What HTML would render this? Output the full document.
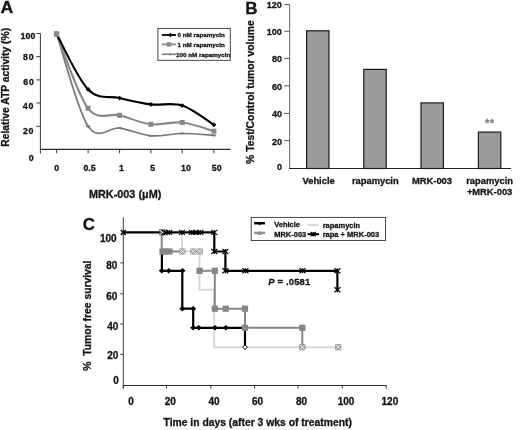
<!DOCTYPE html>
<html><head><meta charset="utf-8"><style>
html,body{margin:0;padding:0;background:#fff;}
body{width:520px;height:430px;overflow:hidden;}
svg{display:block;font-family:"Liberation Sans", sans-serif;filter:grayscale(1);}
</style></head><body>
<svg width="520" height="430" viewBox="0 0 520 430">
<rect width="520" height="430" fill="#fff"/>
<text x="0.6" y="12.9" font-size="16" text-anchor="start" fill="#151515" stroke="#151515" stroke-width="0.3" font-weight="bold" textLength="12.8" lengthAdjust="spacingAndGlyphs">A</text>
<line x1="40.4" y1="33.5" x2="40.4" y2="153.6" stroke="#3a3a3a" stroke-width="1"/>
<line x1="40.4" y1="149.4" x2="230.5" y2="149.4" stroke="#2a2a2a" stroke-width="1.1"/>
<line x1="36.3" y1="33.5" x2="40.4" y2="33.5" stroke="#3a3a3a" stroke-width="1"/>
<text x="35.3" y="38.75" font-size="8.8" text-anchor="end" fill="#151515" stroke="#151515" stroke-width="0.3" font-weight="bold" textLength="14.9">100</text>
<line x1="36.3" y1="56.6" x2="40.4" y2="56.6" stroke="#3a3a3a" stroke-width="1"/>
<text x="33.6" y="60.45" font-size="8.8" text-anchor="end" fill="#151515" stroke="#151515" stroke-width="0.3" font-weight="bold" textLength="10.5">80</text>
<line x1="36.3" y1="79.9" x2="40.4" y2="79.9" stroke="#3a3a3a" stroke-width="1"/>
<text x="33.8" y="84.95" font-size="8.8" text-anchor="end" fill="#151515" stroke="#151515" stroke-width="0.3" font-weight="bold" textLength="10.5">60</text>
<line x1="36.3" y1="103" x2="40.4" y2="103" stroke="#3a3a3a" stroke-width="1"/>
<text x="33.3" y="109.15" font-size="8.8" text-anchor="end" fill="#151515" stroke="#151515" stroke-width="0.3" font-weight="bold" textLength="10.5">40</text>
<line x1="36.3" y1="126.3" x2="40.4" y2="126.3" stroke="#3a3a3a" stroke-width="1"/>
<text x="33.4" y="133.75" font-size="8.8" text-anchor="end" fill="#151515" stroke="#151515" stroke-width="0.3" font-weight="bold" textLength="10.5">20</text>
<text x="33.6" y="161.45" font-size="8.8" text-anchor="end" fill="#151515" stroke="#151515" stroke-width="0.3" font-weight="bold" >0</text>
<line x1="56.6" y1="149.4" x2="56.6" y2="153.3" stroke="#3a3a3a" stroke-width="1"/>
<line x1="88.1" y1="149.4" x2="88.1" y2="153.3" stroke="#3a3a3a" stroke-width="1"/>
<line x1="119.6" y1="149.4" x2="119.6" y2="153.3" stroke="#3a3a3a" stroke-width="1"/>
<line x1="150.9" y1="149.4" x2="150.9" y2="153.3" stroke="#3a3a3a" stroke-width="1"/>
<line x1="182.2" y1="149.4" x2="182.2" y2="153.3" stroke="#3a3a3a" stroke-width="1"/>
<line x1="213.9" y1="149.4" x2="213.9" y2="153.3" stroke="#3a3a3a" stroke-width="1"/>
<text x="56.8" y="171.35" font-size="8.8" text-anchor="middle" fill="#151515" stroke="#151515" stroke-width="0.3" font-weight="bold" >0</text>
<text x="89.5" y="171.35" font-size="8.8" text-anchor="middle" fill="#151515" stroke="#151515" stroke-width="0.3" font-weight="bold" >0.5</text>
<text x="121.5" y="171.35" font-size="8.8" text-anchor="middle" fill="#151515" stroke="#151515" stroke-width="0.3" font-weight="bold" >1</text>
<text x="152.6" y="171.35" font-size="8.8" text-anchor="middle" fill="#151515" stroke="#151515" stroke-width="0.3" font-weight="bold" >5</text>
<text x="186" y="171.35" font-size="8.8" text-anchor="middle" fill="#151515" stroke="#151515" stroke-width="0.3" font-weight="bold" >10</text>
<text x="216.7" y="171.35" font-size="8.8" text-anchor="middle" fill="#151515" stroke="#151515" stroke-width="0.3" font-weight="bold" >50</text>
<text transform="translate(8.9,87.3) rotate(-90)" font-size="10.3" text-anchor="middle" font-weight="bold" fill="#151515" stroke="#151515" stroke-width="0.3" >Relative ATP activity (%)</text>
<text x="89" y="198.3" font-size="10.85" text-anchor="start" fill="#151515" stroke="#151515" stroke-width="0.3" font-weight="bold" >MRK-003 (&#956;M)</text>
<path d="M56.6,34 C61.85,49.38 77.6,110.62 88.1,126.3 C98.6,141.98 109.13,126.52 119.6,128.1 C130.07,129.68 140.47,134.9 150.9,135.8 C161.33,136.7 171.7,133.57 182.2,133.5 C192.7,133.43 208.62,135.08 213.9,135.4" stroke="#777" stroke-width="1.7" fill="none" />
<path d="M56.6,34 C61.85,46.38 77.6,94.75 88.1,108.3 C98.6,121.85 109.13,112.63 119.6,115.3 C130.07,117.97 140.47,123.1 150.9,124.3 C161.33,125.5 171.7,121.35 182.2,122.5 C192.7,123.65 208.62,129.75 213.9,131.2" stroke="#888" stroke-width="2.1" fill="none" />
<path d="M56.6,34 C61.85,43.23 77.6,78.72 88.1,89.4 C98.6,100.08 109.13,95.6 119.6,98.1 C130.07,100.6 140.47,103.15 150.9,104.4 C161.33,105.65 171.7,102.2 182.2,105.6 C192.7,109 208.62,121.6 213.9,124.8" stroke="#000" stroke-width="2.1" fill="none" />
<path d="M56.6,31.6 l2.5,2.4 l-2.5,2.4 l-2.5,-2.4z" fill="#000"/>
<path d="M88.1,87 l2.5,2.4 l-2.5,2.4 l-2.5,-2.4z" fill="#000"/>
<path d="M119.6,95.7 l2.5,2.4 l-2.5,2.4 l-2.5,-2.4z" fill="#000"/>
<path d="M150.9,102 l2.5,2.4 l-2.5,2.4 l-2.5,-2.4z" fill="#000"/>
<path d="M182.2,103.2 l2.5,2.4 l-2.5,2.4 l-2.5,-2.4z" fill="#000"/>
<path d="M213.9,122.4 l2.5,2.4 l-2.5,2.4 l-2.5,-2.4z" fill="#000"/>
<rect x="54.1" y="31.5" width="5" height="5" fill="#888" stroke="none" stroke-width="0"/>
<rect x="85.6" y="105.8" width="5" height="5" fill="#888" stroke="none" stroke-width="0"/>
<rect x="117.1" y="112.8" width="5" height="5" fill="#888" stroke="none" stroke-width="0"/>
<rect x="148.4" y="121.8" width="5" height="5" fill="#888" stroke="none" stroke-width="0"/>
<rect x="179.7" y="120" width="5" height="5" fill="#888" stroke="none" stroke-width="0"/>
<rect x="211.4" y="128.7" width="5" height="5" fill="#888" stroke="none" stroke-width="0"/>
<line x1="85.9" y1="126.3" x2="90.3" y2="126.3" stroke="#777" stroke-width="1.8"/>
<line x1="117.4" y1="128.1" x2="121.8" y2="128.1" stroke="#777" stroke-width="1.8"/>
<line x1="148.7" y1="135.8" x2="153.1" y2="135.8" stroke="#777" stroke-width="1.8"/>
<line x1="180" y1="133.5" x2="184.4" y2="133.5" stroke="#777" stroke-width="1.8"/>
<line x1="211.7" y1="135.4" x2="216.1" y2="135.4" stroke="#777" stroke-width="1.8"/>
<rect x="53.8" y="31.3" width="5.4" height="5.4" fill="#8a8a8a" stroke="none" stroke-width="0"/>
<rect x="157.9" y="28.4" width="72.4" height="31.9" fill="#fff" stroke="#333" stroke-width="0.9"/>
<line x1="161.8" y1="35" x2="176" y2="35" stroke="#000" stroke-width="1.8"/>
<path d="M170.4,32.8 l2.2,2.2 l-2.2,2.2 l-2.2,-2.2z" fill="#000"/>
<line x1="161.8" y1="44.4" x2="176" y2="44.4" stroke="#8a8a8a" stroke-width="1.8"/>
<rect x="166.8" y="42.2" width="4.4" height="4.4" fill="#8a8a8a" stroke="none" stroke-width="0"/>
<line x1="161.8" y1="54.3" x2="176" y2="54.3" stroke="#7a7a7a" stroke-width="1.5"/>
<line x1="170" y1="53" x2="170" y2="55.6" stroke="#7a7a7a" stroke-width="1"/>
<text x="177.6" y="37.44" font-size="6.25" text-anchor="start" fill="#151515" stroke="#151515" stroke-width="0.3" font-weight="bold" >0 nM rapamycin</text>
<text x="177.6" y="46.64" font-size="6.25" text-anchor="start" fill="#151515" stroke="#151515" stroke-width="0.3" font-weight="bold" >1 nM rapamycin</text>
<text x="176.1" y="56.64" font-size="6.25" text-anchor="start" fill="#151515" stroke="#151515" stroke-width="0.3" font-weight="bold" >100 nM rapamycin</text>
<text x="245.3" y="13.6" font-size="15.6" text-anchor="start" fill="#151515" stroke="#151515" stroke-width="0.3" font-weight="bold" textLength="12.3" lengthAdjust="spacingAndGlyphs">B</text>
<line x1="289.6" y1="4.2" x2="289.6" y2="168.5" stroke="#777" stroke-width="1.1"/>
<line x1="289" y1="168.5" x2="511" y2="168.5" stroke="#222" stroke-width="1.1"/>
<line x1="284.3" y1="4.6" x2="289.6" y2="4.6" stroke="#555" stroke-width="1"/>
<text x="281.9" y="8.12" font-size="9" text-anchor="end" fill="#151515" stroke="#151515" stroke-width="0.3" font-weight="bold" >120</text>
<line x1="284.3" y1="31.3" x2="289.6" y2="31.3" stroke="#555" stroke-width="1"/>
<text x="281.9" y="35.32" font-size="9" text-anchor="end" fill="#151515" stroke="#151515" stroke-width="0.3" font-weight="bold" >100</text>
<line x1="284.3" y1="58.4" x2="289.6" y2="58.4" stroke="#555" stroke-width="1"/>
<text x="281.9" y="62.42" font-size="9" text-anchor="end" fill="#151515" stroke="#151515" stroke-width="0.3" font-weight="bold" >80</text>
<line x1="284.3" y1="85.8" x2="289.6" y2="85.8" stroke="#555" stroke-width="1"/>
<text x="281.9" y="89.82" font-size="9" text-anchor="end" fill="#151515" stroke="#151515" stroke-width="0.3" font-weight="bold" >60</text>
<line x1="284.3" y1="113.4" x2="289.6" y2="113.4" stroke="#555" stroke-width="1"/>
<text x="281.9" y="117.42" font-size="9" text-anchor="end" fill="#151515" stroke="#151515" stroke-width="0.3" font-weight="bold" >40</text>
<line x1="284.3" y1="140.6" x2="289.6" y2="140.6" stroke="#555" stroke-width="1"/>
<text x="281.9" y="144.62" font-size="9" text-anchor="end" fill="#151515" stroke="#151515" stroke-width="0.3" font-weight="bold" >20</text>
<text x="281.9" y="170.12" font-size="9" text-anchor="end" fill="#151515" stroke="#151515" stroke-width="0.3" font-weight="bold" >0</text>
<text transform="translate(254.4,92.05) rotate(-90)" font-size="10.36" text-anchor="middle" font-weight="bold" fill="#151515" stroke="#151515" stroke-width="0.3" >% Test/Control tumor volume</text>
<rect x="306.6" y="30.8" width="22.4" height="137.7" fill="#9b9b9b" stroke="#1a1a1a" stroke-width="1.2"/>
<rect x="363.8" y="69.4" width="22.4" height="99.1" fill="#9b9b9b" stroke="#1a1a1a" stroke-width="1.2"/>
<rect x="421" y="102.9" width="22.4" height="65.6" fill="#9b9b9b" stroke="#1a1a1a" stroke-width="1.2"/>
<rect x="478.4" y="132.1" width="22.4" height="36.4" fill="#9b9b9b" stroke="#1a1a1a" stroke-width="1.2"/>
<text x="318.6" y="183.95" font-size="9.35" text-anchor="middle" fill="#151515" stroke="#151515" stroke-width="0.3" font-weight="bold" >Vehicle</text>
<text x="375.3" y="183.95" font-size="9.35" text-anchor="middle" fill="#151515" stroke="#151515" stroke-width="0.3" font-weight="bold" >rapamycin</text>
<text x="432" y="184.15" font-size="9.35" text-anchor="middle" fill="#151515" stroke="#151515" stroke-width="0.3" font-weight="bold" >MRK-003</text>
<text x="489.6" y="184.15" font-size="9.35" text-anchor="middle" fill="#151515" stroke="#151515" stroke-width="0.3" font-weight="bold" >rapamycin</text>
<text x="489.6" y="194.55" font-size="9.35" text-anchor="middle" fill="#151515" stroke="#151515" stroke-width="0.3" font-weight="bold" >+MRK-003</text>
<text x="489.8" y="127.2" font-size="11" text-anchor="middle" fill="#808080" stroke="#808080" stroke-width="0.3" font-weight="bold" letter-spacing="0.6">**</text>
<text x="82.7" y="229.7" font-size="16.2" text-anchor="start" fill="#151515" stroke="#151515" stroke-width="0.3" font-weight="bold" textLength="12.2" lengthAdjust="spacingAndGlyphs">C</text>
<line x1="123.3" y1="217.4" x2="123.3" y2="388.6" stroke="#3a3a3a" stroke-width="1"/>
<line x1="123.3" y1="385.5" x2="386.6" y2="385.5" stroke="#2a2a2a" stroke-width="1.2"/>
<line x1="120.3" y1="262.9" x2="123.3" y2="262.9" stroke="#3a3a3a" stroke-width="1"/>
<line x1="120.3" y1="293.8" x2="123.3" y2="293.8" stroke="#3a3a3a" stroke-width="1"/>
<line x1="120.3" y1="324" x2="123.3" y2="324" stroke="#3a3a3a" stroke-width="1"/>
<line x1="120.3" y1="354.3" x2="123.3" y2="354.3" stroke="#3a3a3a" stroke-width="1"/>
<text x="116.6" y="241.58" font-size="10" text-anchor="end" fill="#151515" stroke="#151515" stroke-width="0.3" font-weight="bold" >100</text>
<text x="117.3" y="269.48" font-size="10" text-anchor="end" fill="#151515" stroke="#151515" stroke-width="0.3" font-weight="bold" >80</text>
<text x="117.3" y="300.38" font-size="10" text-anchor="end" fill="#151515" stroke="#151515" stroke-width="0.3" font-weight="bold" >60</text>
<text x="118.3" y="330.38" font-size="10" text-anchor="end" fill="#151515" stroke="#151515" stroke-width="0.3" font-weight="bold" >40</text>
<text x="118.3" y="359.08" font-size="10" text-anchor="end" fill="#151515" stroke="#151515" stroke-width="0.3" font-weight="bold" >20</text>
<text x="118.8" y="383.98" font-size="10" text-anchor="end" fill="#151515" stroke="#151515" stroke-width="0.3" font-weight="bold" >0</text>
<line x1="123.3" y1="385.5" x2="123.3" y2="388.6" stroke="#3a3a3a" stroke-width="1"/>
<line x1="166.5" y1="385.5" x2="166.5" y2="388.6" stroke="#3a3a3a" stroke-width="1"/>
<line x1="210.8" y1="385.5" x2="210.8" y2="388.6" stroke="#3a3a3a" stroke-width="1"/>
<line x1="254.6" y1="385.5" x2="254.6" y2="388.6" stroke="#3a3a3a" stroke-width="1"/>
<line x1="298" y1="385.5" x2="298" y2="388.6" stroke="#3a3a3a" stroke-width="1"/>
<line x1="342.3" y1="385.5" x2="342.3" y2="388.6" stroke="#3a3a3a" stroke-width="1"/>
<line x1="386.2" y1="385.5" x2="386.2" y2="388.6" stroke="#3a3a3a" stroke-width="1"/>
<text x="131" y="404.98" font-size="10" text-anchor="middle" fill="#151515" stroke="#151515" stroke-width="0.3" font-weight="bold" >0</text>
<text x="170.2" y="404.98" font-size="10" text-anchor="middle" fill="#151515" stroke="#151515" stroke-width="0.3" font-weight="bold" >20</text>
<text x="214" y="404.98" font-size="10" text-anchor="middle" fill="#151515" stroke="#151515" stroke-width="0.3" font-weight="bold" >40</text>
<text x="257.6" y="404.98" font-size="10" text-anchor="middle" fill="#151515" stroke="#151515" stroke-width="0.3" font-weight="bold" >60</text>
<text x="301.5" y="404.98" font-size="10" text-anchor="middle" fill="#151515" stroke="#151515" stroke-width="0.3" font-weight="bold" >80</text>
<text x="346" y="404.98" font-size="10" text-anchor="middle" fill="#151515" stroke="#151515" stroke-width="0.3" font-weight="bold" >100</text>
<text x="389.9" y="404.98" font-size="10" text-anchor="middle" fill="#151515" stroke="#151515" stroke-width="0.3" font-weight="bold" >120</text>
<text transform="translate(90.8,315.6) rotate(-90)" font-size="10.35" text-anchor="middle" font-weight="bold" fill="#151515" stroke="#151515" stroke-width="0.3" >%&#160;&#160;Tumor free survival</text>
<text x="163.5" y="426" font-size="10.35" text-anchor="start" fill="#151515" stroke="#151515" stroke-width="0.3" font-weight="bold" >Time in days (after 3 wks of treatment)</text>
<path d="M182,232.4 V251.5 H199.4 V289.8 H214.2 V347.2 H338.2" stroke="#d8d8d8" stroke-width="2" fill="none" />
<path d="M161.7,232.4 V251.5 H182" stroke="#868686" stroke-width="2" fill="none" />
<path d="M199.6,270.8 H214.8 V308.7 H245 V327.8 H302.3 V347.2" stroke="#868686" stroke-width="2" fill="none" />
<path d="M161.9,251.5 V270.8 H182.3 V308.7 H193.2 V327.8 H245 V347.2" stroke="#000" stroke-width="2.2" fill="none" />
<path d="M123.3,232.4 H214.3 V251.5 H225.4 V270.8 H337.4 V289.8" stroke="#000" stroke-width="2.2" fill="none" />
<rect x="179.3" y="248.4" width="6.2" height="6.2" fill="#a2a2a2" stroke="none" stroke-width="0"/>
<path d="M180,249.1 L184.8,253.9 M184.8,249.1 L180,253.9" stroke="#f4f4f4" stroke-width="1"/>
<rect x="190.2" y="248.4" width="6.2" height="6.2" fill="#a2a2a2" stroke="none" stroke-width="0"/>
<path d="M190.9,249.1 L195.7,253.9 M195.7,249.1 L190.9,253.9" stroke="#f4f4f4" stroke-width="1"/>
<rect x="196.8" y="248.4" width="6.2" height="6.2" fill="#a2a2a2" stroke="none" stroke-width="0"/>
<path d="M197.5,249.1 L202.3,253.9 M202.3,249.1 L197.5,253.9" stroke="#f4f4f4" stroke-width="1"/>
<rect x="159.3" y="229.3" width="6.2" height="6.2" fill="#555" stroke="none" stroke-width="0"/>
<path d="M160,230 L164.8,234.8 M164.8,230 L160,234.8" stroke="#f4f4f4" stroke-width="1"/>
<rect x="299.2" y="344.1" width="6.2" height="6.2" fill="#999" stroke="none" stroke-width="0"/>
<path d="M299.9,344.8 L304.7,349.6 M304.7,344.8 L299.9,349.6" stroke="#f4f4f4" stroke-width="1"/>
<rect x="335.1" y="344.1" width="6.2" height="6.2" fill="#999" stroke="none" stroke-width="0"/>
<path d="M335.8,344.8 L340.6,349.6 M340.6,344.8 L335.8,349.6" stroke="#f4f4f4" stroke-width="1"/>
<rect x="159.4" y="248.4" width="6.2" height="6.2" fill="#868686" stroke="none" stroke-width="0"/>
<rect x="162.9" y="248.4" width="6.2" height="6.2" fill="#868686" stroke="none" stroke-width="0"/>
<rect x="166.4" y="248.4" width="6.2" height="6.2" fill="#868686" stroke="none" stroke-width="0"/>
<rect x="196.5" y="267.7" width="6.2" height="6.2" fill="#868686" stroke="none" stroke-width="0"/>
<rect x="211.7" y="267.7" width="6.2" height="6.2" fill="#868686" stroke="none" stroke-width="0"/>
<rect x="211.7" y="305.6" width="6.2" height="6.2" fill="#868686" stroke="none" stroke-width="0"/>
<rect x="222.7" y="305.6" width="6.2" height="6.2" fill="#868686" stroke="none" stroke-width="0"/>
<rect x="241.9" y="305.6" width="6.2" height="6.2" fill="#868686" stroke="none" stroke-width="0"/>
<rect x="241.9" y="324.7" width="6.2" height="6.2" fill="#868686" stroke="none" stroke-width="0"/>
<rect x="299.2" y="324.7" width="6.2" height="6.2" fill="#868686" stroke="none" stroke-width="0"/>
<path d="M161.8,268 l3,2.8 l-3,2.8 l-3,-2.8z" fill="#000" stroke="none" stroke-width="0.9"/>
<path d="M168.7,268 l3,2.8 l-3,2.8 l-3,-2.8z" fill="#000" stroke="none" stroke-width="0.9"/>
<path d="M182.5,268 l3,2.8 l-3,2.8 l-3,-2.8z" fill="#000" stroke="none" stroke-width="0.9"/>
<path d="M182.3,305.9 l3,2.8 l-3,2.8 l-3,-2.8z" fill="#000" stroke="none" stroke-width="0.9"/>
<path d="M193.2,305.9 l3,2.8 l-3,2.8 l-3,-2.8z" fill="#000" stroke="none" stroke-width="0.9"/>
<path d="M193.2,325 l3,2.8 l-3,2.8 l-3,-2.8z" fill="#000" stroke="none" stroke-width="0.9"/>
<path d="M198.8,325 l3,2.8 l-3,2.8 l-3,-2.8z" fill="#000" stroke="none" stroke-width="0.9"/>
<path d="M215,325 l3,2.8 l-3,2.8 l-3,-2.8z" fill="#000" stroke="none" stroke-width="0.9"/>
<path d="M225.8,325 l3,2.8 l-3,2.8 l-3,-2.8z" fill="#000" stroke="none" stroke-width="0.9"/>
<path d="M245,345 l2.4,2.2 l-2.4,2.2 l-2.4,-2.2z" fill="#fff" stroke="#000" stroke-width="0.9"/>
<path d="M161.6,229.9 L167.6,234.9 M167.6,229.9 L161.6,234.9 M164.6,229.9 V234.9" stroke="#000" stroke-width="1.15"/>
<path d="M166.2,229.9 L172.2,234.9 M172.2,229.9 L166.2,234.9 M169.2,229.9 V234.9" stroke="#000" stroke-width="1.15"/>
<path d="M179,229.9 L185,234.9 M185,229.9 L179,234.9 M182,229.9 V234.9" stroke="#000" stroke-width="1.15"/>
<path d="M188.7,229.9 L194.7,234.9 M194.7,229.9 L188.7,234.9 M191.7,229.9 V234.9" stroke="#000" stroke-width="1.15"/>
<path d="M193.1,229.9 L199.1,234.9 M199.1,229.9 L193.1,234.9 M196.1,229.9 V234.9" stroke="#000" stroke-width="1.15"/>
<path d="M197.4,229.9 L203.4,234.9 M203.4,229.9 L197.4,234.9 M200.4,229.9 V234.9" stroke="#000" stroke-width="1.15"/>
<path d="M211.3,229.9 L217.3,234.9 M217.3,229.9 L211.3,234.9 M214.3,229.9 V234.9" stroke="#000" stroke-width="1.15"/>
<path d="M120.9,230.0 l4.8,4.8 M125.7,230.0 l-4.8,4.8" stroke="#111" stroke-width="1.7"/>
<path d="M211.3,249 L217.3,254 M217.3,249 L211.3,254 M214.3,249 V254" stroke="#000" stroke-width="1.15"/>
<path d="M222.4,249 L228.4,254 M228.4,249 L222.4,254 M225.4,249 V254" stroke="#000" stroke-width="1.15"/>
<path d="M222.4,268.3 L228.4,273.3 M228.4,268.3 L222.4,273.3 M225.4,268.3 V273.3" stroke="#000" stroke-width="1.15"/>
<path d="M242.4,268.3 L248.4,273.3 M248.4,268.3 L242.4,273.3 M245.4,268.3 V273.3" stroke="#000" stroke-width="1.15"/>
<path d="M299.5,268.3 L305.5,273.3 M305.5,268.3 L299.5,273.3 M302.5,268.3 V273.3" stroke="#000" stroke-width="1.15"/>
<path d="M334.4,268.3 L340.4,273.3 M340.4,268.3 L334.4,273.3 M337.4,268.3 V273.3" stroke="#000" stroke-width="1.15"/>
<path d="M334.4,287.3 L340.4,292.3 M340.4,287.3 L334.4,292.3 M337.4,287.3 V292.3" stroke="#000" stroke-width="1.15"/>
<text x="268.2" y="285.17" font-size="9.4" font-weight="bold" fill="#151515" stroke="#151515" stroke-width="0.3" textLength="42"><tspan font-style="italic">P</tspan> = .0581</text>
<rect x="251.2" y="217.4" width="134.4" height="23.1" fill="#fff" stroke="#333" stroke-width="0.9"/>
<line x1="254.2" y1="223.2" x2="265" y2="223.2" stroke="#000" stroke-width="2.4"/>
<path d="M259.6,221.8 l1.8,1.8 l-1.8,1.8 l-1.8,-1.8z" fill="#000" stroke="none" stroke-width="0.9"/>
<line x1="254.2" y1="232.9" x2="265" y2="232.9" stroke="#909090" stroke-width="2.3"/>
<rect x="257.8" y="231.6" width="3.6" height="3.4" fill="#909090" stroke="none" stroke-width="0"/>
<line x1="307.5" y1="225" x2="318.5" y2="225" stroke="#d8d8d8" stroke-width="2"/>
<line x1="307.5" y1="234.2" x2="319" y2="234.2" stroke="#000" stroke-width="2"/>
<path d="M310.6,232 L315.8,236.4 M315.8,232 L310.6,236.4 M313.2,232 V236.4" stroke="#000" stroke-width="1.15"/>
<text x="274.2" y="226.69" font-size="7.5" text-anchor="start" fill="#151515" stroke="#151515" stroke-width="0.3" font-weight="bold" >Vehicle</text>
<text x="274.2" y="236.99" font-size="7.5" text-anchor="start" fill="#151515" stroke="#151515" stroke-width="0.3" font-weight="bold" >MRK-003</text>
<text x="322.7" y="228.09" font-size="7.5" text-anchor="start" fill="#151515" stroke="#151515" stroke-width="0.3" font-weight="bold" >rapamycin</text>
<text x="322.7" y="237.38" font-size="7.5" text-anchor="start" fill="#151515" stroke="#151515" stroke-width="0.3" font-weight="bold" >rapa + MRK-003</text>
</svg>
</body></html>
